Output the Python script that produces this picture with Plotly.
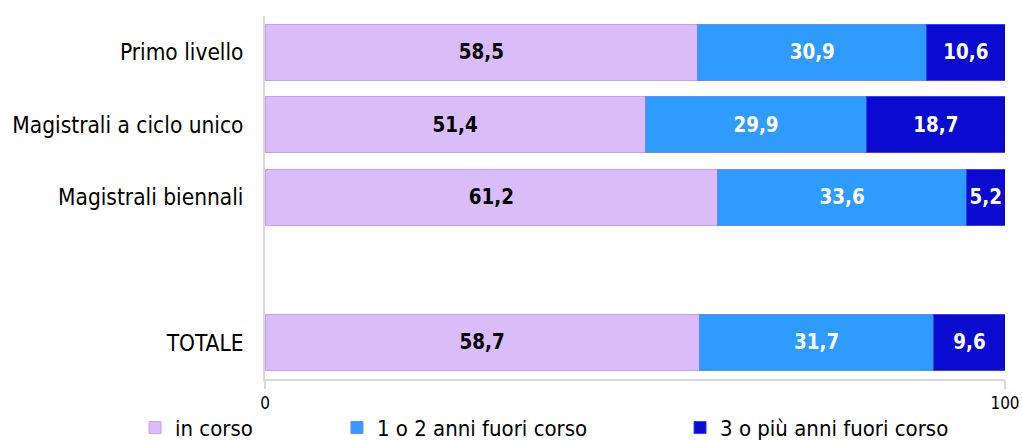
import plotly.graph_objects as go

categories = ["Primo livello", "Magistrali a ciclo unico", "Magistrali biennali", " ", "TOTALE"]
bar_categories = ["Primo livello", "Magistrali a ciclo unico", "Magistrali biennali", "TOTALE"]
in_corso = [58.5, 51.4, 61.2, 58.7]
fuori_1_2 = [30.9, 29.9, 33.6, 31.7]
fuori_3 = [10.6, 18.7, 5.2, 9.6]
series_names = ["in corso", "1 o 2 anni fuori corso", "3 o più anni fuori corso"]
x_ticks = [0, 100]

FONT = "DejaVu Sans Condensed, DejaVu Sans, sans-serif"

def fmt(v):
    return f"{v:.1f}".replace(".", ",")

fig = go.Figure()
specs = [
    (in_corso, series_names[0], "#dabcf9", "#c79cf2", "#000000", "legend"),
    (fuori_1_2, series_names[1], "#2f9bff", "#6a86ff", "#ffffff", "legend2"),
    (fuori_3, series_names[2], "#0a0ad0", "#3c3cff", "#ffffff", "legend3"),
]
for vals, name, col, line, tcol, leg in specs:
    fig.add_trace(go.Bar(
        y=bar_categories, x=vals, name=name, orientation="h",
        marker=dict(color=col, line=dict(color=line, width=1)),
        text=[fmt(v) for v in vals], textposition="inside",
        insidetextanchor="middle", textangle=0,
        textfont=dict(family=FONT, size=21, color=tcol, weight="bold"),
        width=0.77, legend=leg, hoverinfo="skip", showlegend=True,
    ))

leg_common = dict(orientation="h", xref="container", yref="container",
                  yanchor="middle", y=0.030, xanchor="left",
                  font=dict(family=FONT, size=22, color="#000000"),
                  bgcolor="rgba(0,0,0,0)", borderwidth=0)

fig.update_layout(
    template="none",
    showlegend=True,
    barmode="stack",
    width=1022, height=441,
    margin=dict(l=265, r=17, t=16, b=62, autoexpand=False),
    paper_bgcolor="white", plot_bgcolor="white",
    font=dict(family=FONT, size=22, color="#000000"),
    uniformtext=dict(minsize=20, mode="show"),
    xaxis=dict(range=[0, 100], tickvals=x_ticks, ticktext=[str(t) for t in x_ticks],
               automargin=False,
               showgrid=False, zeroline=False, showline=True, linecolor="#d9d9d9",
               linewidth=2, ticks="outside", ticklen=8, tickcolor="#d9d9d9", tickwidth=2,
               tickfont=dict(family=FONT, size=17, color="#000000")),
    yaxis=dict(type="category", categoryorder="array", categoryarray=categories[::-1],
               automargin=False,
               range=[-0.5, 4.5], showgrid=False, zeroline=False, showline=True,
               linecolor="#d9d9d9", linewidth=2, ticks="", ticklabelstandoff=15,
               tickfont=dict(family=FONT, size=22.5, color="#000000")),
    legend=dict(x=0.1321, **leg_common),
    legend2=dict(x=0.3297, **leg_common),
    legend3=dict(x=0.6654, **leg_common),
)

fig.write_html(
    "out.html",
    config={"displayModeBar": False},
    post_script="document.body.style.margin='0';document.body.style.overflow='hidden';",
)
